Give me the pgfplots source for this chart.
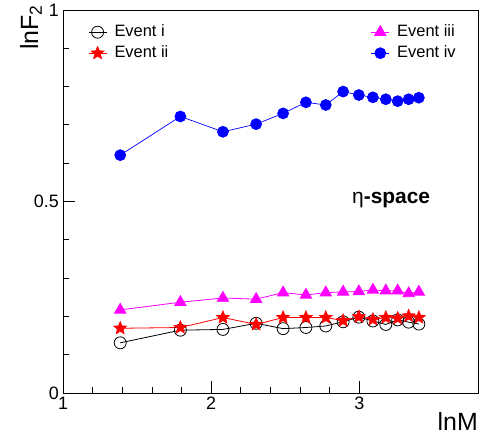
\documentclass[border=0pt]{standalone}
\usepackage{fontspec}
\setmainfont{Liberation Sans}
\usepackage{pgfplots}
\pgfplotsset{compat=1.18}
\usetikzlibrary{plotmarks}
\definecolor{rootmag}{RGB}{255,0,255}
\definecolor{rootred}{RGB}{255,0,0}
\definecolor{rootblue}{RGB}{0,0,255}

% filled five-pointed star, ROOT style
\pgfdeclareplotmark{fstar}{%
  \pgfpathmoveto{\pgfpointpolar{90}{\pgfplotmarksize}}%
  \pgfpathlineto{\pgfpointpolar{126}{0.45\pgfplotmarksize}}%
  \pgfpathlineto{\pgfpointpolar{162}{\pgfplotmarksize}}%
  \pgfpathlineto{\pgfpointpolar{198}{0.45\pgfplotmarksize}}%
  \pgfpathlineto{\pgfpointpolar{234}{\pgfplotmarksize}}%
  \pgfpathlineto{\pgfpointpolar{270}{0.45\pgfplotmarksize}}%
  \pgfpathlineto{\pgfpointpolar{306}{\pgfplotmarksize}}%
  \pgfpathlineto{\pgfpointpolar{342}{0.45\pgfplotmarksize}}%
  \pgfpathlineto{\pgfpointpolar{18}{\pgfplotmarksize}}%
  \pgfpathlineto{\pgfpointpolar{54}{0.45\pgfplotmarksize}}%
  \pgfpathclose
  \pgfusepathqfillstroke
}

\begin{document}
\begin{tikzpicture}
\begin{axis}[
  width=415bp, height=383bp, scale only axis,
  xmin=1, xmax=3.8, ymin=0, ymax=1,
  xtick={1,2,3}, ytick={0,0.5,1},
  minor x tick num=4, minor y tick num=4,
  tick align=inside, xtick pos=bottom, ytick pos=left,
  major tick length=12bp, minor tick length=6bp,
  axis line style={line width=0.9bp},
  every tick/.style={black, line width=0.8bp},
  clip=false,
  /pgf/number format/assume math mode=true,
  tick label style={font=\fontsize{18}{18}\selectfont},
  xticklabel style={inner sep=0pt, yshift=-4bp},
  yticklabel style={inner sep=0pt, xshift=-4bp},
  legend columns=2, transpose legend,
  legend cell align=left,
  legend image code/.code={%
    \draw[mark repeat=2, mark phase=2] plot coordinates {(0bp,0bp) (9bp,0bp) (18bp,0bp)};},
  legend style={draw=none, fill=none, at={(0,1)}, anchor=north west,
    xshift=25bp, yshift=-13bp, inner sep=0pt, row sep=3bp,
    font=\fontsize{16.5}{16.5}\selectfont,
    nodes={inner sep=1.5bp, text height=11.5bp, text depth=3.5bp},
    /tikz/column 1/.style={column sep=6bp},
    /tikz/column 2/.style={column sep=201bp},
    /tikz/column 3/.style={column sep=6bp}},
]

% Event i
\addplot[black, line width=0.8bp, mark=o, mark size=6bp,
  mark options={solid, line width=0.8bp}] coordinates {
  (1.386,0.131) (1.792,0.164) (2.079,0.166) (2.303,0.182) (2.485,0.168)
  (2.639,0.171) (2.773,0.175) (2.890,0.186) (2.996,0.198) (3.091,0.188)
  (3.178,0.179) (3.258,0.191) (3.332,0.185) (3.401,0.180)
};
\addlegendentry{Event i}

% Event ii
\addplot[rootred, line width=0.8bp, mark=fstar, mark size=7bp,
  mark options={solid, fill=rootred, line width=0.4bp}] coordinates {
  (1.386,0.169) (1.792,0.171) (2.079,0.197) (2.303,0.179) (2.485,0.197)
  (2.639,0.197) (2.773,0.197) (2.890,0.189) (2.996,0.199) (3.091,0.192)
  (3.178,0.197) (3.258,0.195) (3.332,0.201) (3.401,0.197)
};
\addlegendentry{Event ii}

% Event iii
\addplot[rootmag, line width=0.8bp, mark=triangle*, mark size=6.5bp,
  mark options={solid, fill=rootmag}] coordinates {
  (1.386,0.217) (1.792,0.237) (2.079,0.248) (2.303,0.245) (2.485,0.262)
  (2.639,0.256) (2.773,0.262) (2.890,0.264) (2.996,0.265) (3.091,0.269)
  (3.178,0.267) (3.258,0.267) (3.332,0.260) (3.401,0.264)
};
\addlegendentry{Event iii}

% Event iv
\addplot[rootblue, line width=0.7bp, mark=*, mark size=5.5bp,
  mark options={solid, fill=rootblue}] coordinates {
  (1.386,0.621) (1.792,0.722) (2.079,0.682) (2.303,0.702) (2.485,0.730)
  (2.639,0.759) (2.773,0.752) (2.890,0.787) (2.996,0.778) (3.091,0.772)
  (3.178,0.767) (3.258,0.762) (3.332,0.767) (3.401,0.771)
};
\addlegendentry{Event iv}

\node[anchor=west, inner sep=0pt, font=\fontsize{21}{21}\selectfont]
  at (axis cs:2.95,0.504) {η\textbf{-space}};

\node[rotate=90, anchor=south east, inner sep=0pt, font=\fontsize{25}{25}\selectfont]
  at ([shift={(-21bp,5bp)}]rel axis cs:0,1) {lnF\textsubscript{2}};
\node[anchor=north east, inner sep=0pt, font=\fontsize{25}{25}\selectfont]
  at ([shift={(0bp,-19bp)}]rel axis cs:1,0) {lnM};
\end{axis}
\path ([shift={(-63bp,-46bp)}]current axis.south west)
  rectangle ([shift={(4bp,10bp)}]current axis.north east);
\end{tikzpicture}
\end{document}
